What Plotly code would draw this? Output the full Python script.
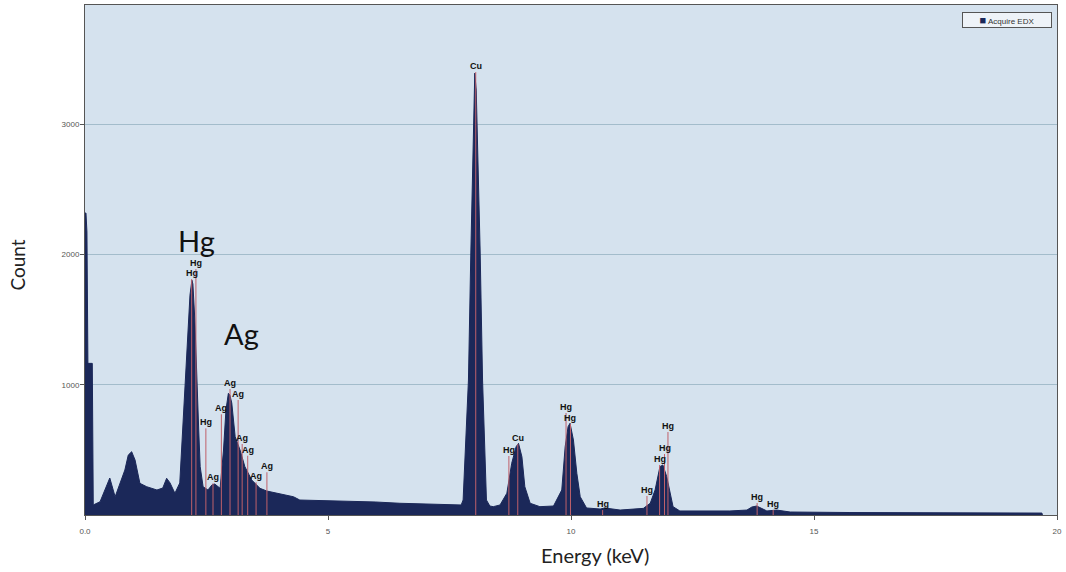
import plotly.graph_objects as go

# ---- spectrum (energy keV, counts) ----
energy_kev = [0.00, 0.02, 0.04, 0.05, 0.06, 0.15, 0.17, 0.31, 0.51, 0.62, 0.82, 0.89, 0.96, 1.03,
              1.13, 1.27, 1.48, 1.60, 1.68, 1.75, 1.85, 1.95, 2.06, 2.12, 2.16, 2.20, 2.22, 2.26,
              2.30, 2.34, 2.37, 2.43, 2.53, 2.61, 2.67, 2.78, 2.85, 2.90, 2.95, 2.98, 3.02, 3.06,
              3.09, 3.19, 3.29, 3.43, 3.60, 3.74, 3.94, 4.29, 4.42, 4.98, 5.45, 5.97, 6.48, 7.10,
              7.61, 7.74, 7.78, 7.84, 7.89, 7.94, 7.97, 8.00, 8.02, 8.05, 8.07, 8.09, 8.13, 8.18,
              8.22, 8.26, 8.33, 8.40, 8.54, 8.68, 8.78, 8.87, 8.92, 8.99, 9.05, 9.16, 9.36, 9.64,
              9.81, 9.88, 9.94, 9.98, 10.05, 10.12, 10.19, 10.32, 10.60, 10.70, 11.01, 11.42,
              11.49, 11.63, 11.73, 11.83, 11.89, 11.97, 12.04, 12.10, 12.24, 12.65, 13.27, 13.62,
              13.72, 13.82, 13.91, 14.03, 14.23, 14.51, 15.74, 17.80, 18.83, 19.69, 19.70]
counts = [2318, 2318, 2172, 1368, 1164, 1164, 77, 102, 284, 140, 345, 460, 486, 422,
          243, 217, 192, 207, 282, 246, 167, 246, 1013, 1420, 1688, 1803, 1773, 1497,
          1013, 652, 371, 217, 192, 230, 238, 205, 499, 806, 934, 921, 860, 729,
          601, 499, 371, 269, 205, 184, 167, 140, 115, 111, 102, 100, 90, 84,
          77, 77, 115, 576, 1036, 2034, 2648, 3108, 3392, 3262, 2993, 2724, 2034, 1036,
          576, 115, 69, 64, 77, 167, 397, 524, 550, 447, 217, 90, 64, 69,
          192, 524, 678, 704, 576, 320, 140, 54, 46, 54, 38, 46,
          51, 90, 192, 371, 384, 294, 167, 64, 31, 31, 31, 38,
          61, 69, 54, 31, 38, 23, 19, 15, 12, 15, 0]

# ---- element marker lines ----
marker_elements = ["Hg", "Hg", "Hg", "Ag", "Ag", "Ag", "Ag", "Ag", "Ag", "Ag", "Ag",
                   "Cu", "Hg", "Cu", "Hg", "Hg", "Hg", "Hg", "Hg", "Hg", "Hg", "Hg", "Hg"]
marker_energies = [2.195, 2.282, 2.487, 2.634, 2.806, 2.984, 3.151, 3.234, 3.348, 3.520, 3.743,
                   8.040, 8.722, 8.905, 9.898, 9.989, 10.651, 11.563, 11.823, 11.924, 11.995,
                   13.830, 14.160]
marker_heights = [1811, 1888, 665, 243, 773, 967, 883, 545, 455, 251, 328,
                  3400, 453, 545, 783, 698, 38, 146, 384, 468, 637, 92, 38]

# ---- big callout labels ----
callout_text = ["Hg", "Ag"]
callout_x = [2.30, 3.23]
callout_y = [2110, 1397]

series_name = "Acquire EDX"
x_tickvals = [0, 5, 10, 15, 20]
x_ticktext = ["0.0", "5", "10", "15", "20"]
y_tickvals = [1000, 2000, 3000]
y_ticktext = ["1000", "2000", "3000"]

NAVY = "#1b2859"

fig = go.Figure()

fig.add_trace(go.Scatter(
    x=energy_kev, y=counts, mode="lines", fill="tozeroy", name=series_name,
    line=dict(color=NAVY, width=1), fillcolor=NAVY,
    showlegend=False, hoverinfo="skip"))

# marker lines
mx, my = [], []
for e, h in zip(marker_energies, marker_heights):
    mx += [e, e, None]
    my += [0, h, None]
fig.add_trace(go.Scatter(x=mx, y=my, mode="lines",
                         line=dict(color="#c0606a", width=1),
                         showlegend=False, hoverinfo="skip"))

for el, e, h in zip(marker_elements, marker_energies, marker_heights):
    fig.add_annotation(x=e, y=h, text="<b>%s</b>" % el, showarrow=False,
                       xref="x", yref="y", yanchor="bottom", yshift=-1,
                       font=dict(family="Liberation Sans, Arial", size=9, color="#111111"))

for t, x, y in zip(callout_text, callout_x, callout_y):
    fig.add_annotation(x=x, y=y, text=t, showarrow=False, xref="x", yref="y",
                       xanchor="center", yanchor="middle",
                       font=dict(family="Lato", size=29, color="#111111"))

# legend box
fig.add_annotation(x=0.995, y=0.986, xref="paper", yref="paper", xanchor="right", yanchor="top",
                   text="<span style='color:%s;font-size:11px'>■</span> %s" % (NAVY, series_name),
                   showarrow=False, bgcolor="#eef3f8", bordercolor="#555555", borderwidth=1,
                   borderpad=1, width=86,
                   font=dict(family="Liberation Sans, Arial", size=8, color="#333333"))

fig.add_annotation(x=-0.0695, y=0.49, xref="paper", yref="paper", text="Count",
                   textangle=-90, showarrow=False, xanchor="center", yanchor="middle",
                   font=dict(family="Lato", size=19, color="#222222"))
fig.add_annotation(x=0.525, y=-0.078, xref="paper", yref="paper", text="Energy (keV)",
                   showarrow=False, xanchor="center", yanchor="middle",
                   font=dict(family="Lato", size=20, color="#222222"))

fig.update_layout(
    width=1066, height=572,
    margin=dict(l=85, r=9, t=5, b=57),
    paper_bgcolor="white", plot_bgcolor="#d5e2ee",
    showlegend=False,
    xaxis=dict(range=[0, 20], tickvals=x_tickvals, ticktext=x_ticktext,
               showgrid=False, zeroline=False, showline=True, linecolor="#555555",
               linewidth=1, mirror=True, ticks="outside", ticklen=4, tickcolor="#555555",
               ticklabelstandoff=4,
               tickfont=dict(family="Liberation Sans, Arial", size=8, color="#555555")),
    yaxis=dict(range=[0, 3915], tickvals=y_tickvals, ticktext=y_ticktext,
               showgrid=True, gridcolor="#a3bccb", gridwidth=1, zeroline=False,
               showline=True, linecolor="#555555", linewidth=1, mirror=True,
               ticks="outside", ticklen=4, tickcolor="#555555",
               ticklabelstandoff=-1,
               tickfont=dict(family="Liberation Sans, Arial", size=8, color="#555555")),
)

fig.write_html("out.html", config={"displayModeBar": False},
               post_script="document.body.style.margin='0px';")
